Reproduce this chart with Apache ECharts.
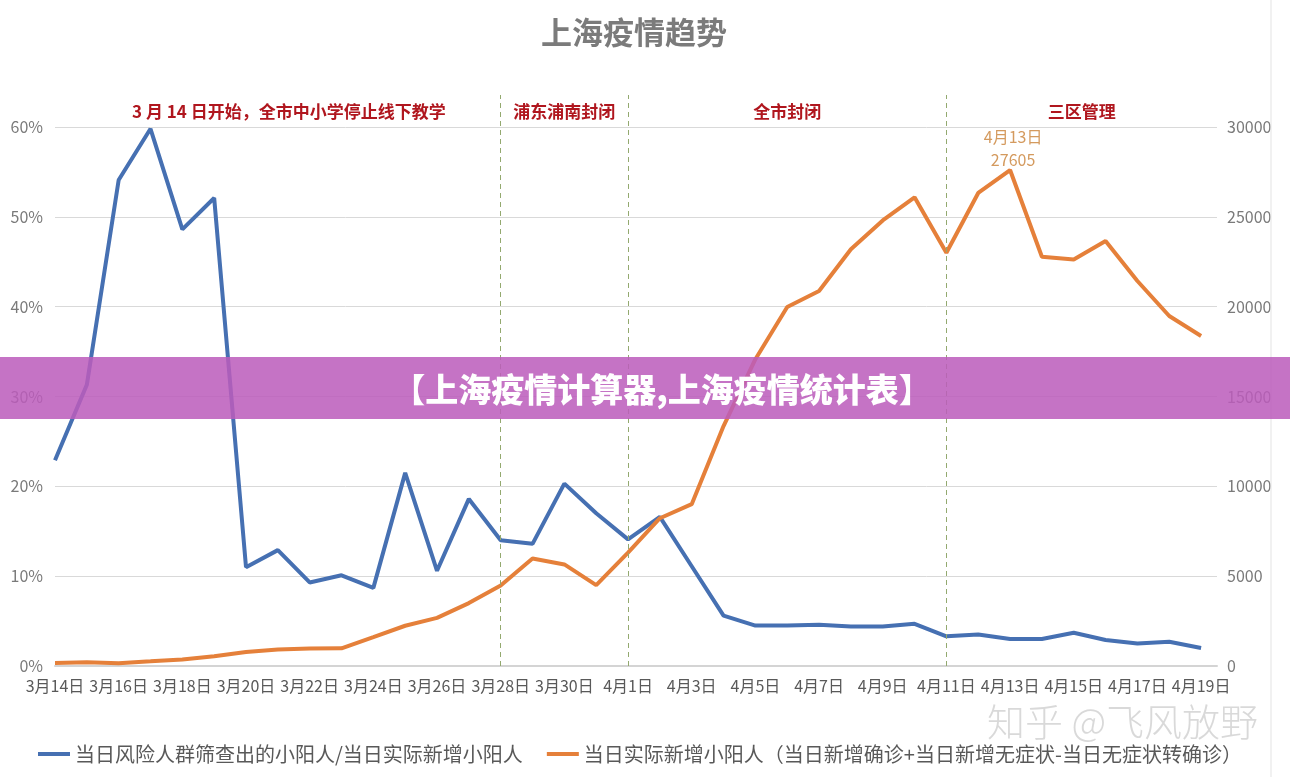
<!DOCTYPE html>
<html>
<head>
<meta charset="utf-8">
<script src="https://cdn.jsdelivr.net/npm/echarts@6/dist/echarts.min.js"></script>
<style>
  html, body { margin: 0; padding: 0; background: #fff; }
  #chart { width: 1290px; height: 777px; }
</style>
</head>
<body>
<div id="chart"></div>
<script>
// x 轴日期
const dates = [
  "3月14日", "3月15日", "3月16日", "3月17日", "3月18日", "3月19日", "3月20日", "3月21日", "3月22日",
  "3月23日", "3月24日", "3月25日", "3月26日", "3月27日", "3月28日", "3月29日", "3月30日", "3月31日",
  "4月1日", "4月2日", "4月3日", "4月4日", "4月5日", "4月6日", "4月7日", "4月8日", "4月9日", "4月10日",
  "4月11日", "4月12日", "4月13日", "4月14日", "4月15日", "4月16日", "4月17日", "4月18日", "4月19日",
];

// 当日风险人群筛查出的小阳人 / 当日实际新增小阳人 (%)
const riskRatio = [
  22.9, 31.3, 54.1, 59.8, 48.6, 52.1, 11.0, 12.9, 9.3, 10.1, 8.7, 21.5, 10.6, 18.6, 14.0, 13.6, 20.3, 17.0,
  14.1, 16.6, 11.1, 5.6, 4.5, 4.5, 4.6, 4.4, 4.4, 4.7, 3.3, 3.5, 3.0, 3.0, 3.7, 2.9, 2.5, 2.7, 2.0,
];

// 当日实际新增小阳人
const newCases = [
  169, 202, 158, 260, 366, 540, 780, 920, 980, 983, 1609, 2240, 2676, 3500, 4477, 5982, 5653, 4502,
  6311, 8226, 9006, 13354, 17077, 19982, 20870, 23200, 24800, 26087, 23000, 26330, 27605, 22780, 22630,
  23650, 21430, 19480, 18370,
];

const legendNames = [
  "当日风险人群筛查出的小阳人/当日实际新增小阳人",
  "当日实际新增小阳人（当日新增确诊+当日新增无症状-当日无症状转确诊）",
];

// 阶段分界线（日期下标）和阶段名称
const phaseBreaks = [14, 18, 28];
const phaseNames = ["3 月 14 日开始，全市中小学停止线下教学", "浦东浦南封闭", "全市封闭", "三区管理"];

const pctTicks = [0, 10, 20, 30, 40, 50, 60];
const caseTicks = [0, 5000, 10000, 15000, 20000, 25000, 30000];

const peakIdx = newCases.indexOf(Math.max(...newCases));
const xMax = dates.length - 0.5;
// 顶部留出标注区域，使 60% / 30000 落在网格线上
const topRatio = 571 / 539;

const axisFont = "'Liberation Sans Narrow', 'Noto Sans CJK SC', sans-serif";
const cjkFont = "'Noto Sans CJK SC', sans-serif";

const phaseEdges = [0, ...phaseBreaks, xMax];
const phaseAreas = phaseNames.map((name, i) => [
  { xAxis: phaseEdges[i], name, label: i === 0 ? { offset: [11, 0] } : {} },
  { xAxis: phaseEdges[i + 1] },
]);

const chart = echarts.init(document.getElementById("chart"));
chart.setOption({
  animation: false,
  title: {
    text: "上海疫情趋势",
    left: 536,
    top: 12,
    textStyle: { color: "#7b7b7b", fontSize: 31, fontWeight: "bold", fontFamily: cjkFont },
  },
  grid: { left: 55, right: 73, top: 95, bottom: 111, containLabel: false },
  legend: {
    left: 38,
    top: 744,
    padding: 0,
    icon: "rect",
    itemWidth: 32,
    itemHeight: 4,
    itemGap: 24,
    textStyle: { color: "#595959", fontSize: 20, fontFamily: cjkFont },
    data: legendNames,
  },
  xAxis: {
    type: "value",
    min: 0,
    max: xMax,
    interval: 2,
    axisTick: { show: false },
    splitLine: { show: false },
    axisLine: { lineStyle: { color: "#d4d4d4", width: 2 } },
    axisLabel: {
      color: "#595959",
      fontSize: 16,
      fontFamily: axisFont,
      margin: 12,
      showMaxLabel: false,
      formatter: (v) => dates[v] || "",
    },
  },
  yAxis: [
    {
      type: "value",
      min: 0,
      max: 60 * topRatio,
      interval: 10,
      axisLine: { show: false },
      axisTick: { show: false },
      splitLine: { show: true, showMaxLine: false, lineStyle: { color: "#d9d9d9", width: 1 } },
      axisLabel: {
        color: "#7a7a7a",
        fontSize: 16,
        fontFamily: axisFont,
        margin: 12,
        showMaxLabel: false,
        formatter: (v) => (pctTicks.includes(v) ? v + "%" : ""),
      },
    },
    {
      type: "value",
      min: 0,
      max: 30000 * topRatio,
      interval: 5000,
      position: "right",
      axisLine: { show: false },
      axisTick: { show: false },
      splitLine: { show: false },
      axisLabel: {
        color: "#7a7a7a",
        fontSize: 16,
        fontFamily: axisFont,
        margin: 10,
        showMaxLabel: false,
        formatter: (v) => (caseTicks.includes(v) ? String(v) : ""),
      },
    },
  ],
  series: [
    {
      name: legendNames[0],
      type: "line",
      yAxisIndex: 0,
      data: riskRatio.map((v, i) => [i, v]),
      showSymbol: false,
      lineStyle: { color: "#4670b2", width: 4 },
      itemStyle: { color: "#4670b2" },
      markLine: {
        silent: true,
        symbol: "none",
        label: { show: false },
        lineStyle: { color: "#93a96f", width: 1, type: [5, 4] },
        data: phaseBreaks.map((x) => ({ xAxis: x })),
      },
      markArea: {
        silent: true,
        itemStyle: { color: "rgba(0,0,0,0)" },
        label: {
          position: "insideTop",
          distance: 8,
          color: "#b0161e",
          fontSize: 17,
          fontWeight: "bold",
          fontFamily: cjkFont,
        },
        data: phaseAreas,
      },
    },
    {
      name: legendNames[1],
      type: "line",
      yAxisIndex: 1,
      data: newCases.map((v, i) => [i, v]),
      showSymbol: false,
      lineStyle: { color: "#e5803a", width: 4 },
      itemStyle: { color: "#e5803a" },
      markPoint: {
        symbol: "circle",
        symbolSize: 0,
        data: [{ coord: [peakIdx, newCases[peakIdx]], value: newCases[peakIdx] }],
        label: {
          show: true,
          position: "top",
          distance: -1,
          offset: [3, 0],
          color: "#d49a5e",
          fontSize: 16,
          lineHeight: 23,
          fontFamily: axisFont,
          formatter: (p) => dates[peakIdx] + "\n" + p.value,
        },
      },
    },
  ],
  graphic: [
    {
      type: "line",
      z: 100,
      shape: { x1: 1271, y1: 0, x2: 1271, y2: 777 },
      style: { stroke: "#e3e3e3", lineWidth: 1 },
    },
    {
      type: "rect",
      z: 100,
      shape: { x: 0, y: 357, width: 1290, height: 62 },
      style: { fill: "rgba(188,92,188,0.86)" },
    },
    {
      type: "text",
      z: 101,
      x: 662,
      y: 389,
      style: {
        text: "【上海疫情计算器,上海疫情统计表】",
        fill: "#ffffff",
        font: "900 33px 'Noto Sans CJK SC', sans-serif",
        textAlign: "center",
        textVerticalAlign: "middle",
      },
    },
    {
      type: "text",
      z: 101,
      x: 1258,
      y: 722,
      style: {
        text: "知乎 @飞风放野",
        fill: "rgba(185,185,185,0.55)",
        font: "300 38px 'Noto Sans CJK SC', sans-serif",
        textAlign: "right",
        textVerticalAlign: "middle",
      },
    },
  ],
});
</script>
</body>
</html>
